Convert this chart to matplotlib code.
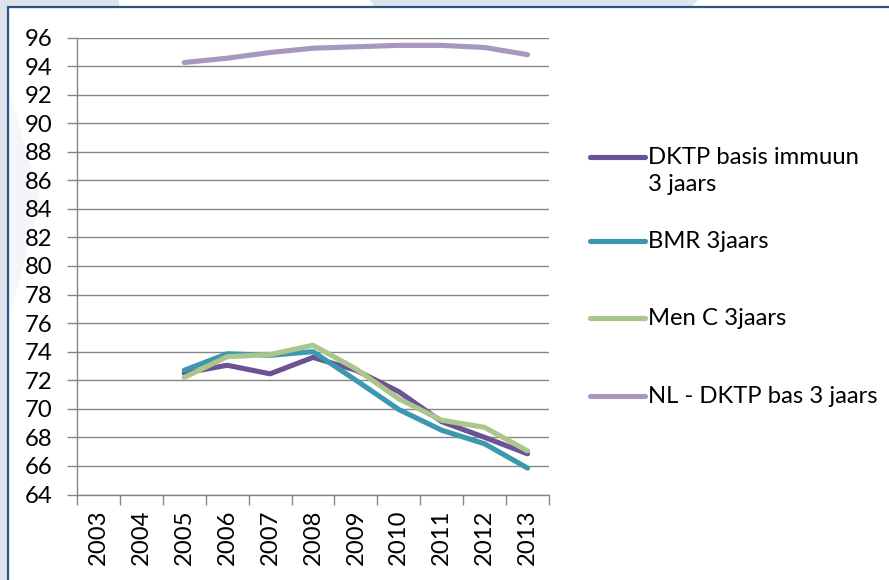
import numpy as np
import matplotlib
matplotlib.use("Agg")
import matplotlib.pyplot as plt
from matplotlib.patches import Rectangle, Polygon
from matplotlib.offsetbox import HPacker, DrawingArea

# data
years = ["2003", "2004", "2005", "2006", "2007", "2008", "2009", "2010", "2011", "2012", "2013"]
dktp = [np.nan, np.nan, 72.5, 73.05, 72.45, 73.6, 72.7, 71.2, 69.1, 68.0, 66.85]
bmr = [np.nan, np.nan, 72.7, 73.85, 73.75, 74.0, 72.0, 69.95, 68.5, 67.55, 65.85]
menc = [np.nan, np.nan, 72.2, 73.65, 73.8, 74.45, 72.8, 70.7, 69.2, 68.7, 67.05]
nl_dktp = [np.nan, np.nan, 94.25, 94.55, 94.95, 95.25, 95.35, 95.45, 95.45, 95.3, 94.8]

labels = ["DKTP basis immuun\n3 jaars", "BMR 3jaars", "Men C 3jaars", "NL - DKTP bas 3 jaars"]
colors = ["#6B5294", "#3B98AE", "#ABC68C", "#A698C1"]
yticks = np.arange(64, 97, 2)

plt.rcParams['font.family'] = ['Lato', 'DejaVu Sans']
fs = 17.2
W, H = 889, 580
fig = plt.figure(figsize=(W / 100, H / 100), dpi=100)

# slide background shapes and chart border
bg = "#DFE3EC"
fig.patches.append(Rectangle((0, 0), 8 / W, 1, transform=fig.transFigure, color=bg, zorder=-2))
fig.patches.append(Rectangle((0, 1 - 7 / H), 118 / W, 7 / H, transform=fig.transFigure, color=bg, zorder=-2))
fig.patches.append(Polygon([(370 / W, 1), (697 / W, 1), (690 / W, 1 - 7 / H), (376 / W, 1 - 7 / H)],
                           transform=fig.transFigure, color=bg, zorder=-2))
fig.patches.append(Polygon([(8 / W, 1 - 90 / H), (40 / W, 1 - 200 / H), (8 / W, 1 - 320 / H)],
                           transform=fig.transFigure, color="#F4F5F9", zorder=-2))
fig.patches.append(Rectangle((8 / W, -0.1), 1.2, 1.1 - 7 / H, transform=fig.transFigure,
                             fill=False, edgecolor="#2B5587", lw=1.6, zorder=-1))

ax = fig.add_axes([77 / W, 1 - 494.5 / H, (549 - 77) / W, (494.5 - 37.5) / H])
ax.set_facecolor("none")

x = np.arange(len(years))
series = [dktp, bmr, menc, nl_dktp]
handles = []
for vals, c in zip(series, colors):
    ln, = ax.plot(x, vals, color=c, lw=3.7, solid_capstyle='round', solid_joinstyle='round', zorder=3)
    handles.append(ln)

ax.set_ylim(64, 96)
ax.set_yticks(yticks)
ax.set_yticklabels([str(v) for v in yticks], fontsize=fs)
ax.set_xlim(-0.5, len(years) - 0.5)
ax.set_xticks(np.arange(len(years) + 1) - 0.5)
ax.set_xticklabels([])
ax.set_xticks(x, minor=True)
ax.set_xticklabels(years, minor=True, rotation=90, fontsize=fs, va='top', ha='center')
ax.tick_params(axis='x', which='minor', length=0, pad=11)
ax.tick_params(axis='x', which='major', length=7, width=1, color="#868686", direction='out')
ax.tick_params(axis='y', length=7, width=1, color="#868686", pad=11)
ax.grid(axis='y', color="#868686", lw=1.0, zorder=1)
for s in ["top", "right"]:
    ax.spines[s].set_visible(False)
for s in ["left", "bottom"]:
    ax.spines[s].set_color("#868686")
    ax.spines[s].set_linewidth(1.0)

# legend: one box per entry, placed like the Excel legend
legend_y = [160, 244, 321, 399]
for h, lab, ly in zip(handles, labels, legend_y):
    leg = fig.legend([h], [lab], loc='upper left', bbox_to_anchor=(590 / W, 1 - (ly - 13) / H),
                     frameon=False, fontsize=fs, handlelength=2.3, handletextpad=0.12,
                     borderpad=0, borderaxespad=0, handleheight=1.2)
    for t in leg.get_texts():
        t.set_linespacing(1.35)
    for hp in leg.findobj(HPacker):
        kids = hp.get_children()
        if len(kids) == 2 and isinstance(kids[0], DrawingArea):
            hp.align = 'top'

fig.savefig("out.png", dpi=100)
